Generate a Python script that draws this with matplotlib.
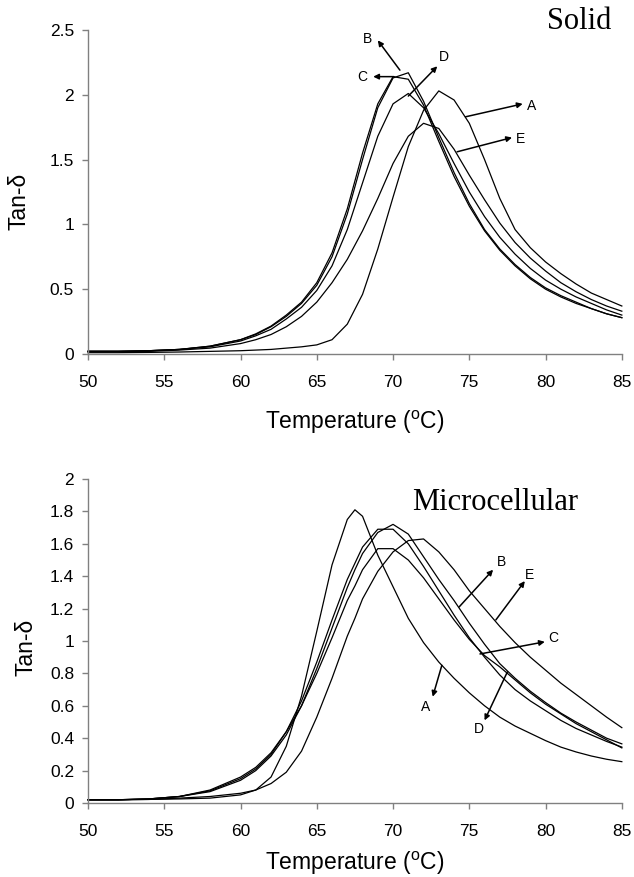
import matplotlib
matplotlib.use("Agg")
import matplotlib.pyplot as plt

plt.rcParams["font.family"] = ["Liberation Sans", "DejaVu Sans"]
plt.rcParams["mathtext.fontset"] = "custom"
plt.rcParams["mathtext.rm"] = "Liberation Sans"

# temperature grids (deg C)
SOLID_T = [50, 52, 54, 56, 58, 60, 61, 62, 63, 64, 65, 66, 67, 68, 69, 70,
           71, 72, 73, 74, 75, 76, 77, 78, 79, 80, 81, 82, 83, 84, 85]
MICRO_T = [50, 52, 54, 56, 58, 60, 61, 62, 63, 64, 65, 66, 67, 67.5, 68, 69, 70,
           71, 72, 73, 74, 75, 76, 77, 78, 79, 80, 81, 82, 83, 84, 85]

# --- Solid samples ---
SOLID_A = [0.01, 0.01, 0.012, 0.015, 0.02, 0.025, 0.03, 0.035, 0.045, 0.055, 0.07, 0.11,
           0.23, 0.46, 0.81, 1.21, 1.60, 1.88, 2.03, 1.96, 1.78, 1.50, 1.20, 0.96,
           0.82, 0.71, 0.62, 0.54, 0.47, 0.42, 0.37]
SOLID_B = [0.02, 0.02, 0.025, 0.035, 0.06, 0.11, 0.15, 0.21, 0.29, 0.39, 0.53, 0.75,
           1.08, 1.50, 1.90, 2.13, 2.17, 1.95, 1.67, 1.40, 1.16, 0.96, 0.81, 0.69,
           0.59, 0.51, 0.45, 0.40, 0.35, 0.31, 0.28]
SOLID_C = [0.02, 0.02, 0.025, 0.035, 0.06, 0.11, 0.155, 0.215, 0.30, 0.40, 0.55, 0.78,
           1.12, 1.55, 1.93, 2.14, 2.12, 1.92, 1.64, 1.37, 1.14, 0.95, 0.80, 0.68,
           0.58, 0.50, 0.44, 0.39, 0.35, 0.31, 0.28]
SOLID_D = [0.02, 0.02, 0.025, 0.035, 0.055, 0.10, 0.14, 0.19, 0.27, 0.36, 0.49, 0.68,
           0.96, 1.32, 1.68, 1.93, 2.01, 1.90, 1.70, 1.47, 1.25, 1.06, 0.90, 0.77,
           0.66, 0.57, 0.50, 0.44, 0.39, 0.34, 0.30]
SOLID_E = [0.02, 0.02, 0.02, 0.03, 0.045, 0.08, 0.11, 0.15, 0.21, 0.29, 0.40, 0.55,
           0.73, 0.95, 1.20, 1.47, 1.68, 1.78, 1.74, 1.58, 1.38, 1.19, 1.01, 0.86,
           0.74, 0.64, 0.55, 0.48, 0.42, 0.37, 0.33]

# --- Microcellular samples ---
MICRO_A = [0.02, 0.02, 0.022, 0.025, 0.03, 0.05, 0.08, 0.16, 0.35, 0.66, 1.06, 1.47,
           1.75, 1.81, 1.77, 1.53, 1.335, 1.14, 0.99, 0.87, 0.77, 0.68, 0.60, 0.53,
           0.475, 0.43, 0.385, 0.345, 0.315, 0.29, 0.27, 0.255]
MICRO_B = [0.02, 0.02, 0.025, 0.04, 0.07, 0.14, 0.20, 0.29, 0.42, 0.60, 0.83, 1.08,
           1.33, 1.44, 1.54, 1.67, 1.72, 1.66, 1.52, 1.38, 1.25, 1.11, 0.98, 0.86,
           0.77, 0.69, 0.62, 0.555, 0.50, 0.45, 0.40, 0.365]
MICRO_C = [0.02, 0.02, 0.025, 0.04, 0.075, 0.15, 0.21, 0.30, 0.44, 0.63, 0.87, 1.13,
           1.38, 1.48, 1.58, 1.69, 1.69, 1.60, 1.46, 1.31, 1.16, 1.02, 0.90, 0.79,
           0.70, 0.63, 0.57, 0.51, 0.46, 0.42, 0.38, 0.345]
MICRO_D = [0.02, 0.02, 0.025, 0.04, 0.08, 0.16, 0.22, 0.31, 0.44, 0.60, 0.80, 1.02,
           1.25, 1.34, 1.44, 1.57, 1.57, 1.50, 1.39, 1.26, 1.13, 1.01, 0.91, 0.84,
           0.76, 0.68, 0.61, 0.55, 0.49, 0.44, 0.39, 0.34]
MICRO_E = [0.02, 0.02, 0.022, 0.03, 0.04, 0.06, 0.08, 0.12, 0.19, 0.32, 0.53, 0.77,
           1.03, 1.14, 1.26, 1.43, 1.55, 1.62, 1.63, 1.55, 1.44, 1.31, 1.20, 1.09,
           0.99, 0.90, 0.82, 0.74, 0.67, 0.60, 0.53, 0.465]

# label text position, arrow tail (on curve), arrow head
SOLID_LABELS = [
    ("A", (79.1, 1.91), (74.75, 1.83), (78.5, 1.93)),
    ("B", (68.3, 2.43), (70.45, 2.19), (69.0, 2.42)),
    ("C", (68.0, 2.14), (70.06, 2.14), (68.7, 2.14)),
    ("D", (73.3, 2.29), (71.0, 1.99), (72.9, 2.22)),
    ("E", (78.35, 1.66), (74.2, 1.56), (77.8, 1.67)),
]
MICRO_LABELS = [
    ("A", (72.15, 0.595), (73.2, 0.85), (72.6, 0.656)),
    ("B", (77.1, 1.49), (74.33, 1.21), (76.56, 1.44)),
    ("C", (80.5, 1.02), (75.7, 0.92), (79.95, 0.995)),
    ("D", (75.6, 0.455), (77.5, 0.81), (76.0, 0.51)),
    ("E", (78.96, 1.41), (76.74, 1.13), (78.64, 1.37)),
]


def style_axis(ax, ymax, ystep, yticklabels, xlabelpad):
    ax.set_xlim(50, 85)
    ax.set_ylim(0, ymax)
    ax.set_xticks(range(50, 86, 5))
    ax.set_yticks([i * ystep for i in range(len(yticklabels))])
    ax.set_yticklabels(yticklabels)
    for side in ("top", "right"):
        ax.spines[side].set_visible(False)
    for side in ("left", "bottom"):
        ax.spines[side].set_color("#808080")
        ax.spines[side].set_linewidth(1.0)
    ax.tick_params(axis="both", direction="out", length=4, width=1.0,
                   color="#808080", labelsize=12.5, labelcolor="black")
    ax.tick_params(axis="x", pad=11)
    ax.tick_params(axis="y", pad=6)
    ax.set_xlabel("Temperature ($\\mathregular{^o}$C)", fontsize=16.5,
                  labelpad=xlabelpad)
    ax.set_ylabel("Tan-δ", fontsize=16.5)


def draw_panel(ax, temps, curves, labels):
    for values in curves:
        ax.plot(temps, values, color="black", linewidth=0.9, clip_on=False)
    for text, text_pos, tail, head in labels:
        ax.annotate("", xy=head, xytext=tail,
                    arrowprops=dict(arrowstyle="-|>", color="black", lw=1.1,
                                    mutation_scale=8, shrinkA=0, shrinkB=0))
        ax.text(text_pos[0], text_pos[1], text, fontsize=10,
                ha="center", va="center")


fig = plt.figure(figsize=(6.34, 8.77), dpi=100)
ax_top = fig.add_axes([0.1388, 0.5964, 0.842, 0.3694])
ax_bot = fig.add_axes([0.1388, 0.0844, 0.842, 0.3694])

draw_panel(ax_top, SOLID_T, [SOLID_A, SOLID_B, SOLID_C, SOLID_D, SOLID_E], SOLID_LABELS)
style_axis(ax_top, 2.5, 0.5, ["0", "0.5", "1", "1.5", "2", "2.5"], 14)
ax_top.yaxis.set_label_coords(-0.108, 0.47)
ax_top.text(0.92, 1.025, "Solid", transform=ax_top.transAxes, fontsize=22,
            family="Liberation Serif", ha="center", va="center")

draw_panel(ax_bot, MICRO_T, [MICRO_A, MICRO_B, MICRO_C, MICRO_D, MICRO_E], MICRO_LABELS)
style_axis(ax_bot, 2.0, 0.2, ["0", "0.2", "0.4", "0.6", "0.8", "1", "1.2", "1.4",
                              "1.6", "1.8", "2"], 8)
ax_bot.yaxis.set_label_coords(-0.095, 0.48)
ax_bot.text(0.762, 0.926, "Microcellular", transform=ax_bot.transAxes, fontsize=22,
            family="Liberation Serif", ha="center", va="center")

fig.savefig("out.png", dpi=100)
